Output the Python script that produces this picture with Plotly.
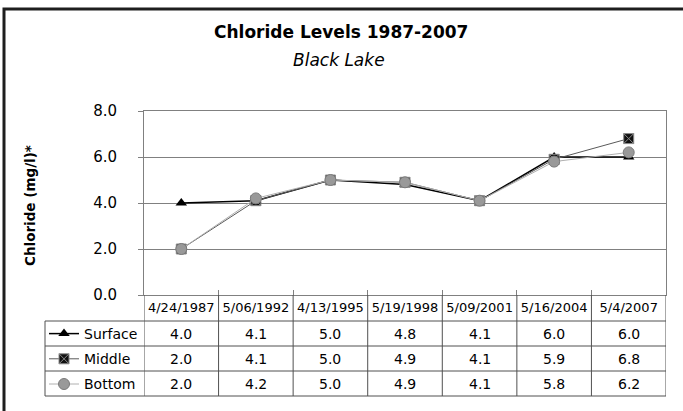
import plotly.graph_objects as go

# survey dates (x categories / table header)
dates = ["4/24/1987", "5/06/1992", "4/13/1995", "5/19/1998", "5/09/2001", "5/16/2004", "5/4/2007"]

surface = [4.0, 4.1, 5.0, 4.8, 4.1, 6.0, 6.0]
middle = [2.0, 4.1, 5.0, 4.9, 4.1, 5.9, 6.8]
bottom = [2.0, 4.2, 5.0, 4.9, 4.1, 5.8, 6.2]

series_names = ["Surface", "Middle", "Bottom"]
y_ticks = [0, 2, 4, 6, 8]

FONT = "DejaVu Sans, Verdana, sans-serif"
GRID = "#808080"
TABLE_LINE = "#505050"

W, H = 683, 411
M_L, M_R, M_T, M_B = 144, 17, 111, 116
PW = W - M_L - M_R
PH = H - M_T - M_B


def px_x(p):
    return (p - M_L) / PW


def px_y(p):
    return (H - M_B - p) / PH


fig = go.Figure()

fig.add_trace(go.Scatter(
    x=dates, y=surface, name="Surface", legendgroup="s", mode="lines+markers",
    line=dict(color="#000000", width=1.5),
    marker=dict(symbol="triangle-up", size=10, color="#000000"),
))
fig.add_trace(go.Scatter(
    x=dates, y=middle, name="Middle", legendgroup="m", mode="lines+markers",
    line=dict(color="#5a5a5a", width=1),
    marker=dict(symbol="square-x", size=10, color="#111111", line=dict(color="#8a8a8a", width=1)),
))
fig.add_trace(go.Scatter(
    x=dates, y=bottom, name="Bottom", legendgroup="b", mode="lines+markers",
    line=dict(color="#b0b0b0", width=1),
    marker=dict(symbol="circle", size=11, color="#999999", line=dict(color="#7a7a7a", width=1)),
))

# data table below the plot
row_edges = [321, 346, 371, 396]
shapes = []
# outer frame of the picture
shapes.append(dict(type="rect", xref="paper", yref="paper",
                   x0=px_x(4), x1=px_x(720), y0=px_y(9), y1=px_y(450),
                   line=dict(color="#1e1e1e", width=3)))
for r in row_edges:
    shapes.append(dict(type="line", xref="paper", yref="paper",
                       x0=px_x(45), x1=1, y0=px_y(r), y1=px_y(r),
                       line=dict(color=TABLE_LINE, width=1)))
for i in range(len(dates) + 1):
    shapes.append(dict(type="line", xref="x", yref="paper",
                       x0=i - 0.5, x1=i - 0.5, y0=0, y1=px_y(row_edges[-1]),
                       line=dict(color=TABLE_LINE, width=1)))
shapes.append(dict(type="line", xref="paper", yref="paper",
                   x0=px_x(45), x1=px_x(45), y0=px_y(row_edges[0]), y1=px_y(row_edges[-1]),
                   line=dict(color=TABLE_LINE, width=1)))

annotations = [
    dict(text="<b>Chloride Levels 1987-2007</b>", xref="paper", yref="paper",
         x=px_x(341), y=px_y(32), font=dict(size=17, color="#000")),
    dict(text="<i>Black Lake</i>", xref="paper", yref="paper",
         x=px_x(339), y=px_y(60), font=dict(size=17, color="#000")),
    dict(text="<b>Chloride (mg/l)*</b>", xref="paper", yref="paper", textangle=-90,
         x=px_x(30), y=px_y(206), font=dict(size=13.5, color="#000")),
]
for k, vals in enumerate([surface, middle, bottom]):
    yc = (row_edges[k] + row_edges[k + 1]) / 2
    for d, v in zip(dates, vals):
        annotations.append(dict(text=f"{v:.1f}", xref="x", yref="paper", x=d, y=px_y(yc),
                                font=dict(size=14, color="#000")))
for a in annotations:
    a.update(showarrow=False, xanchor="center", yanchor="middle")

fig.update_layout(
    width=W, height=H,
    margin=dict(l=M_L, r=M_R, t=M_T, b=M_B, autoexpand=False),
    paper_bgcolor="white", plot_bgcolor="white",
    font=dict(family=FONT, color="#000", size=14),
    showlegend=True,
    legend=dict(x=px_x(44), y=px_y(row_edges[0] - 3), xanchor="left", yanchor="top",
                bgcolor="rgba(0,0,0,0)", traceorder="grouped", tracegroupgap=4,
                font=dict(size=14, color="#000")),
    xaxis=dict(type="category", range=[-0.5, len(dates) - 0.5], showgrid=False,
               showline=True, linecolor=GRID, linewidth=1, mirror=True,
               ticks="inside", tickson="boundaries", ticklen=5, tickcolor=GRID,
               tickangle=0, tickfont=dict(size=13, color="#000"), fixedrange=True),
    yaxis=dict(range=[0, 8], tickvals=y_ticks, tickformat=".1f", showgrid=True,
               gridcolor=GRID, gridwidth=1, zeroline=False,
               showline=True, linecolor=GRID, linewidth=1, mirror=True,
               ticks="outside", ticklen=5, tickcolor=GRID, ticklabelstandoff=18,
               tickfont=dict(size=15, color="#000"), fixedrange=True),
    shapes=shapes,
    annotations=annotations,
)

# drop the browser's default page margin so the figure sits at the window origin
fig.write_html("out.html", config={"displayModeBar": False},
               post_script="document.body.style.margin='0';")
